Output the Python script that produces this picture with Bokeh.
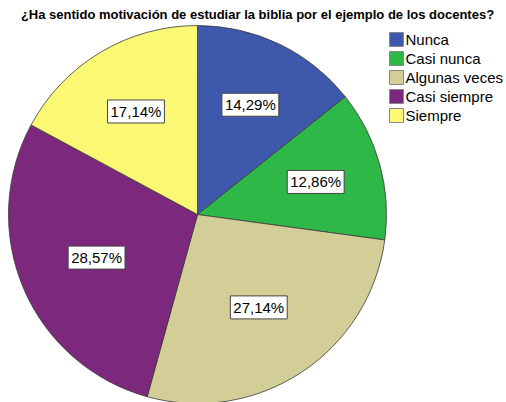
import math
from bokeh.plotting import figure
from bokeh.models import Range1d, Label, ColumnDataSource
from bokeh.embed import file_html
from bokeh.resources import INLINE
from bokeh.core.properties import value

title = "¿Ha sentido motivación de estudiar la biblia por el ejemplo de los docentes?"
categories = ["Nunca", "Casi nunca", "Algunas veces", "Casi siempre", "Siempre"]
percentages = [14.29, 12.86, 27.14, 28.57, 17.14]
pct_labels = ["14,29%", "12,86%", "27,14%", "28,57%", "17,14%"]
colors = ["#3E58AC", "#2EB848", "#D3CE97", "#7C287D", "#FBF873"]

FONT = "Liberation Sans"
W, H = 506, 402
p = figure(width=W, height=H, x_range=Range1d(0, W), y_range=Range1d(0, H),
           output_backend="svg", toolbar_location=None, min_border=0)
p.axis.visible = False
p.grid.visible = False
p.outline_line_color = None
p.background_fill_color = "white"
p.border_fill_color = "white"

cx, cy, r = 197, 188, 189
total = sum(percentages)
starts, ends = [], []
cum = 0.0
for v in percentages:
    a0 = math.pi / 2 - cum / total * 2 * math.pi
    cum += v
    a1 = math.pi / 2 - cum / total * 2 * math.pi
    starts.append(a0)
    ends.append(a1)

src = ColumnDataSource(dict(start=starts, end=ends, color=colors, cat=categories))
p.wedge(x=cx, y=cy, radius=r, start_angle="start", end_angle="end", direction="clock",
        fill_color="color", line_color="#3a3a3a", line_width=0.8, source=src)

for a0, a1, lab in zip(starts, ends, pct_labels):
    alpha = abs(a0 - a1) / 2
    d = 2 * r * math.sin(alpha) / (3 * alpha)
    mid = (a0 + a1) / 2
    p.add_layout(Label(x=cx + d * math.cos(mid), y=cy + d * math.sin(mid), text=lab,
                       text_align="center", text_baseline="middle",
                       text_font=FONT, text_font_size="15px", text_color="black",
                       background_fill_color="white", border_line_color="#444444",
                       border_line_width=1, padding=3))

# legend
leg_x, leg_y, step = 396, 363, 19
lx = [leg_x] * len(categories)
ly = [leg_y - step * i for i in range(len(categories))]
p.rect(x=lx, y=ly, width=14, height=14, fill_color=colors, line_color="#888888", line_width=1)
p.text(x=[leg_x + 9] * len(categories), y=ly, text=categories, text_align="left",
       text_baseline="middle", text_font=value(FONT), text_font_size="15px", text_color="black")

p.add_layout(Label(x=257, y=388, text=title, text_align="center", text_baseline="middle",
                   text_font=FONT, text_font_size="13px", text_font_style="bold",
                   text_color="black"))

open("out.html", "w").write(file_html(p, INLINE))
